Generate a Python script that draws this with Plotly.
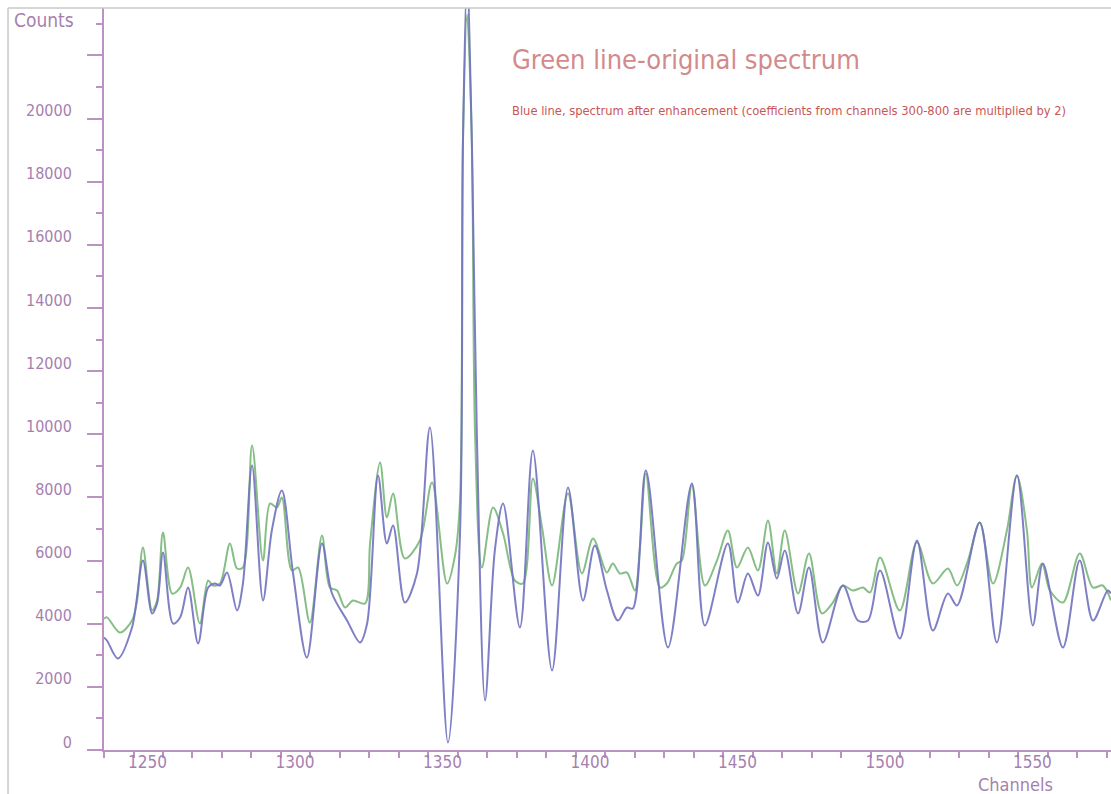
from plotly import graph_objects as go

# green line - original spectrum
original_channels = [
    1240.0, 1241.0, 1245.4, 1249.5, 1251.2, 1253.2, 1256.3, 1258.0, 1260.0, 1263.1,
    1265.8, 1268.5, 1272.5, 1275.3, 1276.9, 1279.3, 1282.7, 1285.1, 1287.1, 1290.2,
    1293.9, 1296.3, 1298.6, 1300.3, 1303.7, 1305.8, 1309.8, 1313.9, 1316.6, 1319.0,
    1321.7, 1324.4, 1328.5, 1330.2, 1333.6, 1335.9, 1338.0, 1342.0, 1347.1, 1351.2,
    1356.3, 1359.0, 1360.7, 1361.7, 1363.1, 1364.7, 1365.8, 1368.1, 1371.9, 1375.3,
    1379.3, 1382.0, 1385.4, 1388.5, 1391.9, 1397.3, 1402.0, 1405.8, 1410.5, 1412.5,
    1414.9, 1417.3, 1420.0, 1421.7, 1423.7, 1428.5, 1430.8, 1434.2, 1435.9, 1439.3,
    1443.7, 1447.8, 1451.5, 1454.6, 1458.3, 1461.7, 1465.1, 1468.1, 1470.8, 1475.3,
    1479.0, 1483.4, 1487.1, 1490.5, 1493.9, 1497.3, 1499.7, 1503.1, 1509.8, 1515.6,
    1521.0, 1526.1, 1529.2, 1532.9, 1536.9, 1541.4, 1546.1, 1549.5, 1552.9, 1554.6,
    1558.0, 1560.7, 1565.1, 1570.8, 1575.3, 1578.6, 1581.4,
]
original_counts = [
    4160, 4200, 3720, 4100, 4735, 6413, 4418, 4735, 6888, 4956,
    5146, 5780, 4006, 5368, 5210, 5273, 6540, 5748, 5780, 9643,
    6001, 7807, 7680, 7997, 5685, 5780, 4038, 6793, 5146, 5051,
    4513, 4735, 4640, 6540, 9105, 7363, 8123, 6065, 6635, 8472,
    5273, 6160, 7902, 19303, 23300, 19303, 10024, 5780, 7680, 6857,
    5368, 5273, 8599, 7047, 5210, 8123, 5590, 6698, 5621, 5906,
    5590, 5621, 5051, 6413, 8757, 5146, 5273, 5906, 6001, 8377,
    5210, 6001, 6952, 5780, 6413, 5685, 7268, 5590, 6952, 4956,
    6223, 4323, 4671, 5210, 5051, 5146, 4988, 6096, 4418, 6571,
    5273, 5748, 5210, 6001, 7205, 5273, 6952, 8693, 6952, 5146,
    5906, 5051, 4671, 6223, 5146, 5210, 4735,
]

# blue line - spectrum after enhancement
enhanced_channels = [
    1240.0, 1241.0, 1244.7, 1249.5, 1253.2, 1256.3, 1258.0, 1260.0, 1263.4, 1265.8,
    1268.5, 1271.9, 1275.3, 1277.6, 1279.3, 1281.7, 1285.1, 1287.1, 1290.2, 1293.9,
    1296.9, 1300.3, 1304.1, 1308.8, 1313.9, 1317.3, 1322.4, 1326.8, 1329.2, 1332.9,
    1335.9, 1338.0, 1342.0, 1346.1, 1350.5, 1356.6, 1360.7, 1361.7, 1363.1, 1364.7,
    1366.4, 1369.2, 1372.5, 1375.3, 1381.0, 1385.4, 1391.9, 1397.3, 1402.4, 1406.4,
    1410.5, 1414.2, 1417.3, 1419.3, 1423.7, 1431.2, 1439.3, 1443.7, 1451.5, 1454.9,
    1458.3, 1461.7, 1465.1, 1468.1, 1470.8, 1475.3, 1479.0, 1483.7, 1490.5, 1495.6,
    1499.0, 1503.1, 1509.8, 1515.6, 1521.0, 1526.1, 1529.2, 1536.9, 1542.7, 1549.5,
    1554.9, 1558.3, 1565.1, 1570.8, 1575.3, 1580.3, 1581.4,
]
enhanced_counts = [
    3563, 3468, 2898, 3880, 6001, 4323, 4640, 6255, 4006, 4196,
    5146, 3373, 5146, 5273, 5210, 5621, 4418, 5273, 9010, 4735,
    6952, 8218, 5590, 2929, 6540, 4956, 4101, 3405, 4006, 8693,
    6540, 7110, 4671, 5590, 10214, 238, 6857, 19303, 24500, 19303,
    10024, 1568, 6318, 7807, 3880, 9485, 2518, 8313, 4735, 6476,
    5051, 4101, 4513, 4481, 8852, 3246, 8440, 3943, 6540, 4671,
    5590, 4893, 6571, 5431, 6318, 4323, 5780, 3405, 5210, 4101,
    4101, 5685, 3531, 6635, 3785, 4956, 4576, 7205, 3405, 8693,
    3943, 5906, 3246, 6001, 4101, 5051, 4956,
]

count_ticks = list(range(0, 24000, 2000))
count_labels = [str(v) for v in count_ticks[:-1]] + [""]
channel_ticks = [1250, 1300, 1350, 1400, 1450, 1500, 1550]

AXIS_COLOR = "#bb92c3"
LABEL_COLOR = "#a67fb0"
FONT = "DejaVu Sans Condensed, DejaVu Sans, sans-serif"


def create_spectrum_plot():
    fig = go.Figure()
    fig.add_traces(
        [
            go.Scatter(
                x=original_channels,
                y=original_counts,
                mode="lines",
                line=dict(color="#86be86", width=2, shape="spline", smoothing=0.9),
                name="original",
            ),
            go.Scatter(
                x=enhanced_channels,
                y=enhanced_counts,
                mode="lines",
                line=dict(color="#7272c0", width=2, shape="spline", smoothing=0.9),
                opacity=0.9,
                name="enhanced",
            ),
        ]
    )
    fig.update_layout(
        width=1111,
        height=794,
        margin=dict(l=104, r=0, t=8, b=44, pad=0),
        paper_bgcolor="white",
        plot_bgcolor="white",
        showlegend=False,
        font=dict(family=FONT, size=17, color=LABEL_COLOR),
        xaxis=dict(
            range=[1240, 1581.4],
            showgrid=False,
            zeroline=False,
            showline=True,
            linecolor=AXIS_COLOR,
            linewidth=2,
            tickmode="array",
            tickvals=channel_ticks,
            ticks="outside",
            ticklen=6,
            tickwidth=2,
            tickcolor=AXIS_COLOR,
            ticklabelshift=14,
            ticklabelstandoff=-10,
            minor=dict(dtick=10, tick0=1240, ticks="outside", ticklen=6, tickwidth=2, tickcolor=AXIS_COLOR),
        ),
        yaxis=dict(
            range=[0, 23500],
            showgrid=False,
            zeroline=False,
            showline=True,
            linecolor=AXIS_COLOR,
            linewidth=2,
            tickmode="array",
            tickvals=count_ticks,
            ticktext=count_labels,
            tickfont=dict(size=16),
            ticks="outside",
            ticklen=15,
            tickwidth=2,
            tickcolor=AXIS_COLOR,
            ticklabelstandoff=12,
            ticklabelshift=-8,
            minor=dict(dtick=1000, tick0=0, ticks="outside", ticklen=6, tickwidth=2, tickcolor=AXIS_COLOR),
        ),
    )
    fig.add_annotation(
        text="Counts", xref="paper", yref="paper", x=-0.0914, y=0.984,
        xanchor="left", yanchor="middle", showarrow=False, font=dict(size=19, color=LABEL_COLOR),
    )
    fig.add_annotation(
        text="Channels", xref="paper", yref="paper", x=0.905, y=-0.047,
        xanchor="center", yanchor="middle", showarrow=False, font=dict(size=18, color=LABEL_COLOR),
    )
    fig.add_annotation(
        text="Green line-original spectrum", xref="paper", yref="paper", x=0.403, y=0.930,
        xanchor="left", yanchor="middle", showarrow=False, font=dict(size=27, color="#d28a8c"),
    )
    fig.add_annotation(
        text="Blue line, spectrum after enhancement (coefficients from channels 300-800 are multiplied by 2)",
        xref="paper", yref="paper", x=0.403, y=0.8625,
        xanchor="left", yanchor="middle", showarrow=False, font=dict(size=12.8, color="#c85656"),
    )
    # thin grey frame round the picture
    fig.add_shape(type="line", xref="paper", yref="paper", x0=-0.0953, x1=1, y0=1, y1=1,
                  line=dict(color="#c9c9c9", width=1.5))
    fig.add_shape(type="line", xref="paper", yref="paper", x0=-0.0953, x1=-0.0953, y0=1, y1=-0.06,
                  line=dict(color="#c9c9c9", width=1.5))
    fig.write_html(
        "out.html",
        config={"displayModeBar": False},
        post_script="document.body.style.margin = '0px';",
    )


def main():
    create_spectrum_plot()


if __name__ == "__main__":
    main()
